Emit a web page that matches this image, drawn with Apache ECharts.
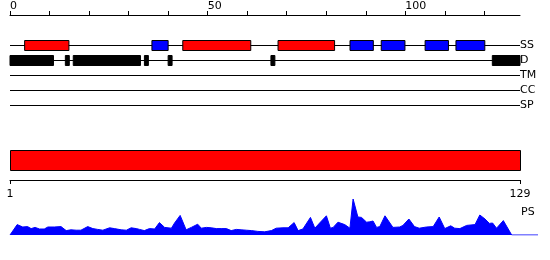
<!DOCTYPE html>
<html><head><meta charset="utf-8">
<script src="https://cdn.jsdelivr.net/npm/echarts@6/dist/echarts.min.js"></script>
<style>html,body{margin:0;padding:0;background:#fff}#c{width:550px;height:260px}</style>
</head><body><div id="c"></div>
<script>
// ---- data ----
var seqMax = 129;
var topTicks = [0,10,20,30,40,50,60,70,80,90,100,110,120];
var topTickLabels = [0,50,100];
var trackNames = ['SS','D','TM','CC','SP'];
var helices = [[3.7,14.9],[43.7,60.9],[67.8,82.1]];
var strands = [[35.9,40.0],[86.0,91.9],[93.9,99.9],[105.0,110.9],[112.8,120.1]];
var disorder = [[0,11],[14,15],[16,33],[34,35],[40,41],[66,67],[122,129]];
var psRange = [1,129];
var psTickLabels = [1,129];
var psName = 'PS';
var profileX = [1,2.8,4.2,5.4,6.3,7.3,8.4,9.6,10.5,12.1,13.8,15.1,16.3,17.6,18.8,20.5,21.8,23.0,24.3,26.0,27.2,28.9,30.2,31.4,32.7,33.5,34.7,36.0,37.3,38.5,39.8,41.5,42.3,43.7,45.2,46.5,48.1,49.0,50.3,51.5,52.8,54.0,55.3,56.5,57.8,59.0,60.3,61.6,63.2,64.9,66.6,67.8,69.5,70.8,72.3,73.3,74.5,76.4,77.5,78.7,80.4,81.4,82.1,83.3,85.0,86.3,87.1,88.3,89.2,90.5,91.3,92.1,93.0,93.8,95.1,97.1,98.8,99.6,101.1,102.5,103.7,105.5,107.2,108.7,110.1,111.6,112.6,113.9,115.6,117.7,118.9,120.2,121.3,122.1,123.1,124.8,126.9,133.5];
var profileY = [0,0.26,0.20,0.21,0.16,0.19,0.15,0.15,0.20,0.20,0.21,0.11,0.13,0.12,0.12,0.21,0.16,0.14,0.12,0.18,0.16,0.13,0.12,0.18,0.16,0.14,0.11,0.16,0.15,0.31,0.19,0.17,0.30,0.49,0.13,0.19,0.27,0.17,0.19,0.18,0.16,0.16,0.16,0.11,0.14,0.13,0.12,0.11,0.09,0.08,0.11,0.17,0.18,0.18,0.31,0.11,0.15,0.44,0.17,0.30,0.48,0.17,0.19,0.32,0.26,0.17,0.90,0.45,0.44,0.32,0.33,0.35,0.19,0.21,0.48,0.19,0.20,0.24,0.40,0.21,0.17,0.20,0.21,0.45,0.16,0.23,0.17,0.16,0.24,0.26,0.50,0.40,0.29,0.30,0.17,0.36,0,0];

// ---- build ----
var FONT = 'DejaVu Sans';
var chart = echarts.init(document.getElementById('c'), null, {renderer:'canvas'});

var trackIdx = trackNames.map(function(n,i){return i+2;});
var featureData = [];
helices.forEach(function(h){featureData.push([h[0],h[1],2,'#ff0000','#000']);});
strands.forEach(function(h){featureData.push([h[0],h[1],2,'#0000ff','#000']);});
disorder.forEach(function(h){featureData.push([h[0],h[1],3,'#000','#000']);});

var profileData = profileX.map(function(x,i){return [x, profileY[i]];});

function crisp(v){return Math.floor(v)+0.5;}

var option = {
  animation:false,
  textStyle:{fontFamily:FONT},
  grid:[
    {left:10, width:510, top:15, height:90},
    {left:10, width:510, top:150, height:30},
    {left:10, width:528, top:195, height:40}
  ],
  xAxis:[
    {gridIndex:0, type:'value', position:'top', offset:1, min:0, max:seqMax, interval:10,
     axisLine:{lineStyle:{color:'#000',width:1}},
     axisTick:{length:4, customValues:topTicks, lineStyle:{color:'#000'}},
     axisLabel:{customValues:topTickLabels, align:'left', margin:2, color:'#000', fontSize:11, fontFamily:FONT},
     splitLine:{show:false}},
    {gridIndex:1, type:'value', position:'bottom', min:psRange[0], max:psRange[1],
     axisLine:{lineStyle:{color:'#000',width:1}},
     axisTick:{length:4, customValues:psTickLabels, lineStyle:{color:'#000'}},
     axisLabel:{customValues:psTickLabels, margin:9, color:'#000', fontSize:11, fontFamily:FONT},
     splitLine:{show:false},
     name:psName, nameLocation:'end', nameGap:1,
     nameTextStyle:{color:'#000', fontSize:11, fontFamily:FONT, align:'left', verticalAlign:'top', padding:[27,0,0,0]}},
    {gridIndex:2, type:'value', min:1, max:profileX[profileX.length-1], show:false}
  ],
  yAxis:[
    {gridIndex:0, type:'value', position:'right', min:0, max:6, inverse:true,
     axisLine:{show:false}, axisTick:{show:false}, splitLine:{show:false},
     axisLabel:{customValues:trackIdx, margin:0, color:'#000', fontSize:11, fontFamily:FONT, align:'left',
       formatter:function(v){return trackNames[v-2]||'';}}},
    {gridIndex:1, type:'value', min:0, max:3, show:false},
    {gridIndex:2, type:'value', min:0, max:1, show:false}
  ],
  series:[
    {type:'custom', xAxisIndex:0, yAxisIndex:0, data:trackIdx, z:1, clip:false,
     renderItem:function(params, api){
       var t = api.value(0);
       var a = api.coord([0,t]), b = api.coord([seqMax,t]);
       var y = crisp(a[1]);
       return {type:'line', shape:{x1:a[0],y1:y,x2:b[0],y2:y}, style:{stroke:'#000',lineWidth:1}};
     }},
    {type:'custom', xAxisIndex:0, yAxisIndex:0, data:featureData, z:2, clip:false,
     renderItem:function(params, api){
       var d = featureData[params.dataIndex];
       var a = api.coord([d[0],d[2]]), b = api.coord([d[1],d[2]]);
       var y = crisp(a[1]);
       return {type:'rect', shape:{x:a[0], y:y-5, width:b[0]-a[0], height:10},
         style:{fill:d[3], stroke:d[4], lineWidth:1}};
     }},
    {type:'custom', xAxisIndex:1, yAxisIndex:1, data:[psRange], clip:false,
     renderItem:function(params, api){
       var a = api.coord([psRange[0],3]), b = api.coord([psRange[1],1]);
       return {type:'rect', shape:{x:a[0]+0.5, y:a[1]+0.5, width:b[0]-a[0], height:b[1]-a[1]},
         style:{fill:'#ff0000', stroke:'#000', lineWidth:1}};
     }},
    {type:'line', xAxisIndex:2, yAxisIndex:2, data:profileData, showSymbol:false, symbol:'none',
     lineStyle:{color:'#0000ff', width:1}, areaStyle:{color:'#0000ff', opacity:1}, smooth:false}
  ]
};
chart.setOption(option);
</script></body></html>
